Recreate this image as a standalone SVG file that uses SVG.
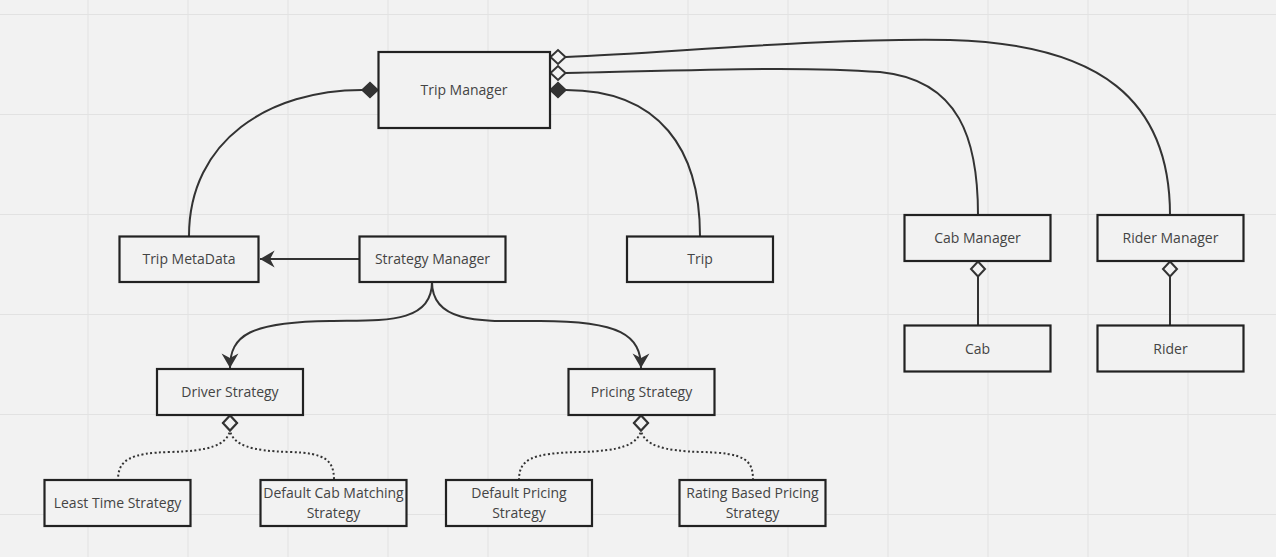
<svg xmlns="http://www.w3.org/2000/svg" width="1276" height="557" viewBox="0 0 1276 557">
<defs>
<pattern id="grid" x="87.5" y="14" width="100" height="100" patternUnits="userSpaceOnUse">
<path d="M0.5,0 V100 M0,0.5 H100" stroke="#e2e2e2" stroke-width="1.2" fill="none"/>
</pattern>
<marker id="dFill" markerUnits="userSpaceOnUse" markerWidth="20" markerHeight="20" refX="0" refY="8" orient="auto" viewBox="-2 0 20 16">
<path d="M0,8 L8,0.5 L16,8 L8,15.5 Z" fill="#333" stroke="#333" stroke-width="1.5"/>
</marker>
<marker id="dOpen" markerUnits="userSpaceOnUse" markerWidth="20" markerHeight="20" refX="0" refY="8" orient="auto" viewBox="-2 0 20 16">
<path d="M0.5,8 L8,1 L15.5,8 L8,15 Z" fill="#f2f2f2" stroke="#333" stroke-width="2"/>
</marker>
<marker id="arr" markerUnits="userSpaceOnUse" markerWidth="18" markerHeight="18" refX="14" refY="8" orient="auto" viewBox="0 0 16 16">
<path d="M14,8 L1,0.5 L5,8 L1,15.5 Z" fill="#333"/>
</marker>
<style>
.box rect{fill:#f2f2f2;stroke:#222;stroke-width:2.2}
.box text{font-family:"Open Sans","Noto Sans",sans-serif;font-size:14px;fill:#444;text-anchor:middle}
.c{fill:none;stroke:#333;stroke-width:2}
.dot{stroke-dasharray:2 2.4}
</style>
</defs>
<rect width="1276" height="557" fill="#f2f2f2"/>
<rect width="1276" height="557" fill="url(#grid)"/>

<g id="connectors">
<path class="c" marker-start="url(#dFill)" d="M378,90 L362,90 C270,90 189,140 189,236"/>
<path class="c" marker-start="url(#dFill)" d="M550,90 L566,90 C660,90 700,150 700,236"/>
<path class="c" marker-start="url(#dOpen)" d="M550,73 L566,73 C700,70 800,66 880,72 C960,80 978,140 978,215"/>
<path class="c" marker-start="url(#dOpen)" d="M550,57 L566,57 C680,52 820,38 950,40 C1100,44 1170,100 1170,215"/>
<path class="c" marker-end="url(#arr)" d="M359,259 L260,259"/>
<path class="c" marker-end="url(#arr)" d="M432,282 C432,325 380,320 330,321 C250,322 230,335 230,368"/>
<path class="c" marker-end="url(#arr)" d="M432,282 C432,325 485,321 540,321 C620,321 641,335 641,368"/>
<path class="c dot" marker-start="url(#dOpen)" d="M230,415 L230,431 C226,445 210,451 170,452 C130,453 118,460 118,480"/>
<path class="c dot" marker-start="url(#dOpen)" d="M230,415 L230,431 C234,445 250,451 290,452 C325,453 334,460 334,480"/>
<path class="c dot" marker-start="url(#dOpen)" d="M641,415 L641,431 C637,445 620,451 580,452 C530,453 519,460 519,480"/>
<path class="c dot" marker-start="url(#dOpen)" d="M641,415 L641,431 C645,445 662,451 702,452 C745,453 753,460 753,480"/>
<path class="c" marker-start="url(#dOpen)" d="M978,261 L978,277 L978,325"/>
<path class="c" marker-start="url(#dOpen)" d="M1170,261 L1170,277 L1170,325"/>
</g>

<g id="trip-manager" class="box"><rect x="378.5" y="52" width="171.5" height="76"/><text x="464" y="95">Trip Manager</text></g>
<g id="trip-metadata" class="box"><rect x="119.5" y="236.5" width="139" height="45.5"/><text x="189" y="264">Trip MetaData</text></g>
<g id="strategy-manager" class="box"><rect x="359.5" y="236.5" width="146" height="45.5"/><text x="432.5" y="264">Strategy Manager</text></g>
<g id="trip" class="box"><rect x="627" y="236.5" width="146" height="45.5"/><text x="700" y="264">Trip</text></g>
<g id="cab-manager" class="box"><rect x="904.5" y="215" width="146" height="46"/><text x="977.5" y="243">Cab Manager</text></g>
<g id="rider-manager" class="box"><rect x="1097.5" y="215" width="146" height="46"/><text x="1170.5" y="243">Rider Manager</text></g>
<g id="cab" class="box"><rect x="904.5" y="325.5" width="146" height="46"/><text x="977.5" y="354">Cab</text></g>
<g id="rider" class="box"><rect x="1097.5" y="325.5" width="146" height="46"/><text x="1170.5" y="354">Rider</text></g>
<g id="driver-strategy" class="box"><rect x="157" y="369" width="146" height="46"/><text x="230" y="397">Driver Strategy</text></g>
<g id="pricing-strategy" class="box"><rect x="568.5" y="369" width="146" height="46"/><text x="641.5" y="397">Pricing Strategy</text></g>
<g id="least-time-strategy" class="box"><rect x="44.5" y="480" width="146" height="46"/><text x="117.5" y="508">Least Time Strategy</text></g>
<g id="default-cab-matching-strategy" class="box"><rect x="260.5" y="480" width="146" height="46"/><text x="333.5" y="498">Default Cab Matching</text><text x="333.5" y="518">Strategy</text></g>
<g id="default-pricing-strategy" class="box"><rect x="446" y="480" width="146" height="46"/><text x="519" y="498">Default Pricing</text><text x="519" y="518">Strategy</text></g>
<g id="rating-based-pricing-strategy" class="box"><rect x="679.5" y="480" width="146" height="46"/><text x="752.5" y="498">Rating Based Pricing</text><text x="752.5" y="518">Strategy</text></g>
</svg>
